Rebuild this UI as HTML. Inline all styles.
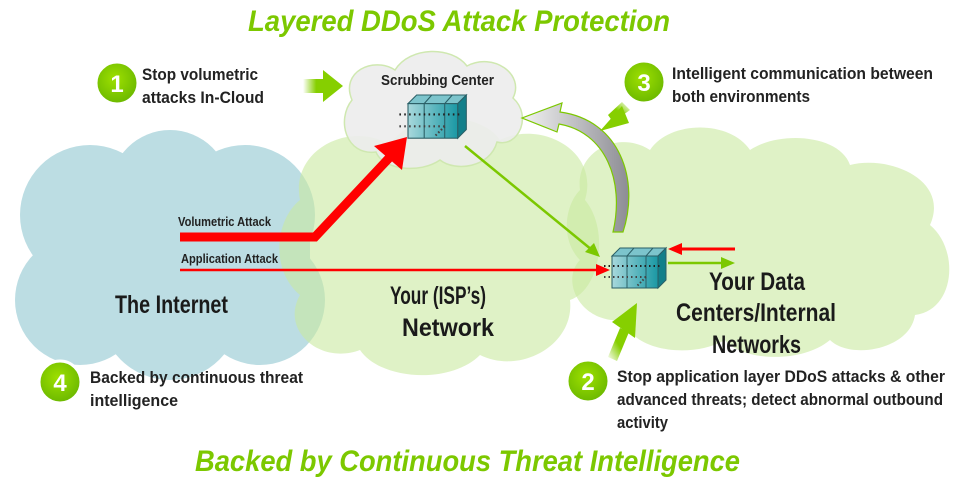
<!DOCTYPE html>
<html><head><meta charset="utf-8"><style>
html,body{margin:0;padding:0;background:#fff;width:959px;height:482px;overflow:hidden}
svg{display:block}
text{font-family:"Liberation Sans",sans-serif;font-weight:bold}
</style></head><body>
<svg width="959" height="482" viewBox="0 0 959 482" xmlns="http://www.w3.org/2000/svg">
<defs>
<linearGradient id="gfade1" x1="0" x2="1"><stop offset="0" stop-color="#86cf00" stop-opacity="0"/><stop offset="0.6" stop-color="#86cf00"/></linearGradient>
<linearGradient id="gfade2" x1="0" y1="1" x2="1" y2="0"><stop offset="0" stop-color="#86cf00" stop-opacity="0"/><stop offset="0.5" stop-color="#86cf00"/></linearGradient>
<linearGradient id="gfade3" x1="1" y1="0" x2="0" y2="1"><stop offset="0" stop-color="#86cf00" stop-opacity="0"/><stop offset="0.5" stop-color="#86cf00"/></linearGradient>
<linearGradient id="grey" x1="0" x2="1"><stop offset="0" stop-color="#f2f2f2"/><stop offset="1" stop-color="#8d8d94"/></linearGradient>
<linearGradient id="box" x1="0" x2="1"><stop offset="0" stop-color="#a8d8dc"/><stop offset="1" stop-color="#1a98a4"/></linearGradient>
<radialGradient id="num" cx="0.45" cy="0.4" r="0.6"><stop offset="0" stop-color="#9ee000"/><stop offset="1" stop-color="#6bb800"/></radialGradient>
<g id="dev">
<polygon points="0,8 8,0 54,0 46,8" fill="#7cc4cc" stroke="#2a5f66" stroke-width="1"/>
<polygon points="46,8 54,0 54,32 46,40" fill="#127f8a" stroke="#2a5f66" stroke-width="1"/>
<rect x="0" y="8" width="46" height="32" fill="url(#box)" stroke="#2a5f66" stroke-width="1"/>
<line x1="15" y1="8" x2="15" y2="40" stroke="#2a5f66"/><line x1="15" y1="8" x2="22" y2="0" stroke="#2a5f66"/>
<line x1="34" y1="8" x2="34" y2="40" stroke="#2a5f66"/><line x1="34" y1="8" x2="41" y2="0" stroke="#2a5f66"/>
<line x1="-8" y1="18" x2="50" y2="18" stroke="#222" stroke-width="2" stroke-dasharray="1.5 3"/>
<line x1="-8" y1="29" x2="34" y2="29" stroke="#444" stroke-width="2" stroke-dasharray="1.5 3"/>
<line x1="34" y1="29" x2="25" y2="38" stroke="#444" stroke-width="2" stroke-dasharray="1.5 2"/>
</g>
</defs>

<g fill="#bcdde3">
<circle cx="90" cy="215" r="70"/><circle cx="170" cy="190" r="60"/><circle cx="245" cy="215" r="70"/>
<circle cx="80" cy="300" r="65"/><circle cx="170" cy="310" r="70"/><circle cx="260" cy="300" r="65"/>
<rect x="40" y="200" width="270" height="120"/>
</g>
<g fill="#c9eaa0" fill-opacity="0.6">
<path d="M300,200 C290,150 350,120 390,145 C410,110 480,110 500,140 C540,120 600,150 585,200 C610,230 600,290 570,300 C575,345 520,375 480,355 C450,385 380,380 360,350 C320,365 280,330 300,295 C270,270 275,220 300,200 Z"/>
</g>
<g fill="#c9eaa0" fill-opacity="0.6">
<path d="M580,190 C575,150 620,130 650,150 C670,120 730,120 750,150 C780,130 840,135 850,165 C890,155 950,180 930,225 C960,250 955,310 915,315 C910,350 850,360 830,340 C800,365 740,360 725,340 C690,360 630,350 625,320 C580,325 560,280 580,260 C560,240 565,205 580,190 Z"/>
</g>
<path d="M352,100 C340,72 373,56 395,70 C410,46 452,46 467,66 C493,52 525,74 513,98 C533,116 518,148 497,142 C490,168 455,172 440,160 C420,174 383,170 376,152 C346,156 336,120 352,100 Z" fill="#ececec" fill-opacity="0.9" stroke="#cfe8b0" stroke-width="1.5"/>

<text x="248" y="31" font-size="30" font-style="italic" fill="#7cc800" textLength="422" lengthAdjust="spacingAndGlyphs">Layered DDoS Attack Protection</text>
<text x="195" y="471" font-size="30" font-style="italic" fill="#7cc800" textLength="545" lengthAdjust="spacingAndGlyphs">Backed by Continuous Threat Intelligence</text>

<line x1="465" y1="146" x2="592" y2="250" stroke="#7cc800" stroke-width="2.5"/>
<polygon points="600,257 585,252 594,243" fill="#7cc800"/>
<polyline points="180,237 315,237 390,157" fill="none" stroke="#ff0000" stroke-width="9"/>
<polygon points="407,137 402,170 374,146" fill="#ff0000"/>
<line x1="180" y1="270" x2="598" y2="270" stroke="#ff0000" stroke-width="2.5"/>
<polygon points="610,270 596,264 596,276" fill="#ff0000"/>
<line x1="680" y1="249" x2="735" y2="249" stroke="#ff0000" stroke-width="3"/>
<polygon points="668,249 682,243 682,255" fill="#ff0000"/>
<line x1="668" y1="263" x2="722" y2="263" stroke="#7cc800" stroke-width="2.5"/>
<polygon points="735,263 721,257 721,269" fill="#7cc800"/>

<path d="M623,232 C640,180 620,120 560,112 L562,103 L522,118 L557,132 L559,124 C605,132 625,180 613,232 Z" fill="url(#grey)" stroke="#7cc800" stroke-width="1.2"/>

<use href="#dev" transform="translate(408,95) scale(1.08)"/>
<use href="#dev" x="612" y="248"/>

<rect x="303" y="79" width="22" height="14" fill="url(#gfade1)"/>
<polygon points="323,70 343,86 323,102" fill="#86cf00"/>
<polygon points="608,357 620,328 629,332 617,361" fill="url(#gfade2)"/>
<polygon points="612,322 637,303 635,338" fill="#86cf00"/>
<polygon points="622,102 630,110 613,122 608,115" fill="url(#gfade3)"/>
<polygon points="600,131 622,106 629,123" fill="#86cf00"/>

<g font-size="24" fill="#fff" text-anchor="middle">
<circle cx="117" cy="83" r="21" fill="url(#num)" stroke="#fff" stroke-width="3"/><text x="117" y="92">1</text>
<circle cx="644" cy="82" r="21" fill="url(#num)" stroke="#fff" stroke-width="3"/><text x="644" y="91">3</text>
<circle cx="60" cy="382" r="21" fill="url(#num)" stroke="#fff" stroke-width="3"/><text x="60" y="391">4</text>
<circle cx="588" cy="381" r="21" fill="url(#num)" stroke="#fff" stroke-width="3"/><text x="588" y="390">2</text>
</g>

<g fill="#222" font-size="17">
<text x="142" y="80" textLength="116" lengthAdjust="spacingAndGlyphs">Stop volumetric</text>
<text x="142" y="103" textLength="122" lengthAdjust="spacingAndGlyphs">attacks In-Cloud</text>
<text x="672" y="79" textLength="261" lengthAdjust="spacingAndGlyphs">Intelligent communication between</text>
<text x="672" y="102" textLength="138" lengthAdjust="spacingAndGlyphs">both environments</text>
<text x="90" y="383" textLength="213" lengthAdjust="spacingAndGlyphs">Backed by continuous threat</text>
<text x="90" y="406" textLength="88" lengthAdjust="spacingAndGlyphs">intelligence</text>
<text x="617" y="382" textLength="328" lengthAdjust="spacingAndGlyphs">Stop application layer DDoS attacks &amp; other</text>
<text x="617" y="405" textLength="326" lengthAdjust="spacingAndGlyphs">advanced threats; detect abnormal outbound</text>
<text x="617" y="428" textLength="51" lengthAdjust="spacingAndGlyphs">activity</text>
</g>
<g fill="#222" font-size="13">
<text x="381" y="85" font-size="15" textLength="113" lengthAdjust="spacingAndGlyphs">Scrubbing Center</text>
<text x="178" y="226" textLength="93" lengthAdjust="spacingAndGlyphs">Volumetric Attack</text>
<text x="181" y="263" textLength="97" lengthAdjust="spacingAndGlyphs">Application Attack</text>
</g>
<g fill="#1a1a1a" font-size="25">
<text x="115" y="313" textLength="113" lengthAdjust="spacingAndGlyphs">The Internet</text>
<text x="390" y="304" textLength="96" lengthAdjust="spacingAndGlyphs">Your (ISP’s)</text>
<text x="402" y="336" textLength="92" lengthAdjust="spacingAndGlyphs">Network</text>
<text x="709" y="290" textLength="96" lengthAdjust="spacingAndGlyphs">Your Data</text>
<text x="676" y="321" textLength="160" lengthAdjust="spacingAndGlyphs">Centers/Internal</text>
<text x="712" y="353" textLength="89" lengthAdjust="spacingAndGlyphs">Networks</text>
</g>
</svg>
</body></html>
